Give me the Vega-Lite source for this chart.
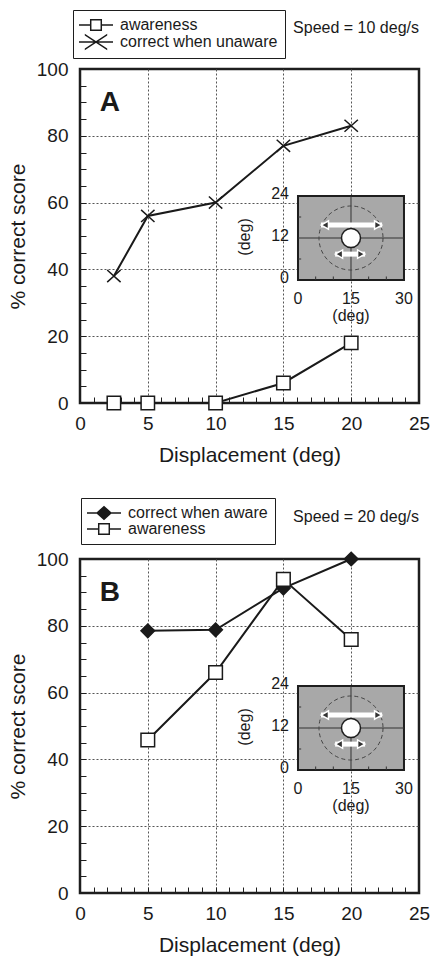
{
  "$schema": "https://vega.github.io/schema/vega-lite/v6.json",
  "background": "white",
  "padding": {"left": 6, "top": 8, "right": 0, "bottom": 0},
  "spacing": 29,
  "resolve": {"scale": {"shape": "independent", "fill": "independent"}, "legend": {"shape": "independent", "fill": "independent"}},
  "config": {
    "font": "Liberation Sans",
    "view": {"stroke": "#1e1e1e", "strokeWidth": 2.5},
    "axis": {
      "domain": false, "tickSize": -6, "tickColor": "#1e1e1e", "tickWidth": 1,
      "labelFontSize": 19, "labelColor": "#1a1a1a", "labelFlush": false, "labelOverlap": false,
      "titleFontSize": 21, "titleFontWeight": "normal", "titleColor": "#1a1a1a",
      "gridColor": "#555", "gridDash": [2, 2], "gridWidth": 1
    },
    "legend": {
      "orient": "none", "labelFontSize": 16, "labelColor": "#1a1a1a",
      "symbolSize": 196, "symbolStrokeWidth": 0, "symbolFillColor": "#1a1a1a", "symbolOpacity": 1,
      "symbolOffset": 8, "labelOffset": 16, "rowPadding": 0, "padding": 7,
      "strokeColor": "#1e1e1e", "fillColor": "white"
    }
  },
  "vconcat": [
    {
      "width": 339, "height": 334,
      "resolve": {"scale": {"x": "independent", "y": "independent"}},
      "layer": [
        {
          "data": {"name": "seriesA"},
          "resolve": {"scale": {"shape": "independent", "fill": "independent"}},
          "encoding": {
            "x": {"field": "d", "type": "quantitative", "title": "Displacement (deg)", "scale": {"domain": [0, 25], "nice": false, "zero": false},
              "axis": {"values": [0,1,2,3,4,5,6,7,8,9,10,11,12,13,14,15,16,17,18,19,20,21,22,23,24,25], "labelExpr": "datum.value % 5 === 0 ? datum.label : ''", "labelPadding": 17, "titlePadding": 11,
                "gridOpacity": {"condition": {"test": "datum.value % 5 === 0 && datum.value > 0 && datum.value < 25", "value": 1}, "value": 0}}},
            "y": {"field": "pct", "type": "quantitative", "title": "% correct score", "scale": {"domain": [0, 100], "nice": false},
              "axis": {"values": [0,5,10,15,20,25,30,35,40,45,50,55,60,65,70,75,80,85,90,95,100], "labelExpr": "datum.value % 20 === 0 ? datum.label : ''", "labelPadding": 18, "titlePadding": 8,
                "gridOpacity": {"condition": {"test": "datum.value % 20 === 0 && datum.value > 0 && datum.value < 100", "value": 1}, "value": 0}}}
          },
          "layer": [
            {"mark": {"type": "line", "color": "#1a1a1a", "strokeWidth": 2}, "encoding": {"detail": {"field": "series"}}},
            {"mark": {"type": "point", "filled": true, "color": "#1a1a1a", "opacity": 0, "size": 196},
              "encoding": {
                "shape": {"field": "series", "type": "nominal",
                  "scale": {"domain": ["awareness", "correct when unaware"], "range": [
                    "M-2.43,-0.1H-0.86V0.1H-2.43ZM0.86,-0.1H2.43V0.1H0.86ZM-0.86,-0.86H0.86V0.86H-0.86ZM-0.65,-0.65V0.65H0.65V-0.65Z",
                    "M-2.43,-0.1H2.43V0.1H-2.43ZM-1.6,-1.175L1.6,0.925L1.6,1.175L-1.6,-0.925ZM-1.6,0.925L1.6,-1.175L1.6,-0.925L-1.6,1.175Z"]},
                  "legend": {"title": null, "legendX": -7, "legendY": -59,
                    "encode": {"legend": {"strokeWidth": {"value": 2}}}}}
              }},
            {"mark": {"type": "point", "filled": true, "stroke": "#1a1a1a", "strokeWidth": 1.5, "size": 180, "opacity": 1},
              "encoding": {
                "shape": {"field": "series", "type": "nominal",
                  "scale": {"domain": ["awareness", "correct when unaware"], "range": ["square", "M-1,-0.9L1,0.9M-1,0.9L1,-0.9"]}, "legend": null},
                "fill": {"field": "series", "type": "nominal",
                  "scale": {"domain": ["awareness", "correct when unaware"], "range": ["white", "transparent"]}, "legend": null}
              }}
          ]
        },
        {
          "layer": [
            {"data": {"values": [{"label": "A"}]},
              "mark": {"type": "text", "fontSize": 28, "fontWeight": "bold", "align": "left", "baseline": "middle", "color": "#1a1a1a"},
              "encoding": {
                "x": {"datum": 1.45, "type": "quantitative", "scale": {"domain": [0, 25], "nice": false, "zero": false}, "axis": null},
                "y": {"datum": 89.8, "type": "quantitative", "scale": {"domain": [0, 100], "nice": false}, "axis": null},
                "text": {"field": "label"}}},
            {"data": {"values": [{"label": "Speed = 10 deg/s"}]},
              "mark": {"type": "text", "fontSize": 16, "align": "right", "baseline": "middle", "color": "#1a1a1a"},
              "encoding": {
                "x": {"datum": 25, "type": "quantitative", "scale": {"domain": [0, 25], "nice": false, "zero": false}, "axis": null},
                "y": {"datum": 112.3, "type": "quantitative", "scale": {"domain": [0, 100], "nice": false}, "axis": null},
                "text": {"field": "label"}}}
          ]
        },
        {
          "layer": [
            {"data": {"values": [{"u": 0, "v": 0, "u2": 30, "v2": 24}]},
              "mark": {"type": "rect", "fill": "#a8a8a8", "stroke": "#1e1e1e", "strokeWidth": 2},
              "encoding": {
                "x": {"field": "u", "type": "quantitative", "scale": {"domain": [-61.7, 34.25], "nice": false, "zero": false}, "axis": null},
                "y": {"field": "v", "type": "quantitative", "scale": {"domain": [-35.14, 60.29], "nice": false, "zero": false}, "axis": null},
                "x2": {"field": "u2"}, "y2": {"field": "v2"}}},
            {"data": {"values": [
              {"u": 15, "v": 0, "u2": 15, "v2": 24}, {"u": 0, "v": 12, "u2": 30, "v2": 12},
              {"u": 5, "v": 0, "u2": 5, "v2": 1}, {"u": 10, "v": 0, "u2": 10, "v2": 1},
              {"u": 20, "v": 0, "u2": 20, "v2": 1}, {"u": 25, "v": 0, "u2": 25, "v2": 1},
              {"u": 0, "v": 6, "u2": 0.9, "v2": 6}, {"u": 0, "v": 18, "u2": 0.9, "v2": 18}]},
              "mark": {"type": "rule", "color": "#333", "strokeWidth": 1},
              "encoding": {
                "x": {"field": "u", "type": "quantitative", "scale": {"domain": [-61.7, 34.25], "nice": false, "zero": false}, "axis": null},
                "y": {"field": "v", "type": "quantitative", "scale": {"domain": [-35.14, 60.29], "nice": false, "zero": false}, "axis": null},
                "x2": {"field": "u2"}, "y2": {"field": "v2"}}},
            {"data": {"values": [{"u": 15, "v": 12}]},
              "mark": {"type": "point", "shape": "circle", "size": 4100, "filled": false, "stroke": "#444", "strokeWidth": 1, "strokeDash": [4, 3], "opacity": 1},
              "encoding": {
                "x": {"field": "u", "type": "quantitative", "scale": {"domain": [-61.7, 34.25], "nice": false, "zero": false}, "axis": null},
                "y": {"field": "v", "type": "quantitative", "scale": {"domain": [-35.14, 60.29], "nice": false, "zero": false}, "axis": null}}},
            {"data": {"values": [{"u": 6.5, "u2": 23.8, "v": 15.7}, {"u": 10.5, "u2": 19, "v": 7.4}]},
              "mark": {"type": "rule", "color": "white", "strokeWidth": 5},
              "encoding": {
                "x": {"field": "u", "type": "quantitative", "scale": {"domain": [-61.7, 34.25], "nice": false, "zero": false}, "axis": null},
                "y": {"field": "v", "type": "quantitative", "scale": {"domain": [-35.14, 60.29], "nice": false, "zero": false}, "axis": null},
                "x2": {"field": "u2"}}},
            {"data": {"values": [{"u": 7.6, "v": 15.7}, {"u": 11.6, "v": 7.4}]},
              "mark": {"type": "point", "shape": "triangle-left", "size": 70, "filled": true, "fill": "#333", "stroke": "white", "strokeWidth": 1.5, "opacity": 1},
              "encoding": {
                "x": {"field": "u", "type": "quantitative", "scale": {"domain": [-61.7, 34.25], "nice": false, "zero": false}, "axis": null},
                "y": {"field": "v", "type": "quantitative", "scale": {"domain": [-35.14, 60.29], "nice": false, "zero": false}, "axis": null}}},
            {"data": {"values": [{"u": 22.7, "v": 15.7}, {"u": 17.9, "v": 7.4}]},
              "mark": {"type": "point", "shape": "triangle-right", "size": 70, "filled": true, "fill": "#333", "stroke": "white", "strokeWidth": 1.5, "opacity": 1},
              "encoding": {
                "x": {"field": "u", "type": "quantitative", "scale": {"domain": [-61.7, 34.25], "nice": false, "zero": false}, "axis": null},
                "y": {"field": "v", "type": "quantitative", "scale": {"domain": [-35.14, 60.29], "nice": false, "zero": false}, "axis": null}}},
            {"data": {"values": [{"u": 15, "v": 12}]},
              "mark": {"type": "point", "shape": "circle", "size": 361, "filled": true, "fill": "white", "stroke": "#1e1e1e", "strokeWidth": 1.5, "opacity": 1},
              "encoding": {
                "x": {"field": "u", "type": "quantitative", "scale": {"domain": [-61.7, 34.25], "nice": false, "zero": false}, "axis": null},
                "y": {"field": "v", "type": "quantitative", "scale": {"domain": [-35.14, 60.29], "nice": false, "zero": false}, "axis": null}}},
            {"data": {"values": [{"v": 0, "label": "0"}, {"v": 12, "label": "12"}, {"v": 24, "label": "24"}]},
              "mark": {"type": "text", "align": "right", "baseline": "middle", "dx": -9, "dy": -2, "fontSize": 16, "color": "#1a1a1a"},
              "encoding": {
                "x": {"datum": 0, "type": "quantitative", "scale": {"domain": [-61.7, 34.25], "nice": false, "zero": false}, "axis": null},
                "y": {"field": "v", "type": "quantitative", "scale": {"domain": [-35.14, 60.29], "nice": false, "zero": false}, "axis": null},
                "text": {"field": "label"}}},
            {"data": {"values": [{"u": 0, "label": "0"}, {"u": 15, "label": "15"}, {"u": 30, "label": "30"}]},
              "mark": {"type": "text", "align": "center", "baseline": "top", "dy": 11, "fontSize": 16, "color": "#1a1a1a"},
              "encoding": {
                "x": {"field": "u", "type": "quantitative", "scale": {"domain": [-61.7, 34.25], "nice": false, "zero": false}, "axis": null},
                "y": {"datum": 0, "type": "quantitative", "scale": {"domain": [-35.14, 60.29], "nice": false, "zero": false}, "axis": null},
                "text": {"field": "label"}}},
            {"data": {"values": [{"label": "(deg)"}]},
              "mark": {"type": "text", "align": "center", "baseline": "middle", "dy": 36, "fontSize": 16, "color": "#1a1a1a"},
              "encoding": {
                "x": {"datum": 15, "type": "quantitative", "scale": {"domain": [-61.7, 34.25], "nice": false, "zero": false}, "axis": null},
                "y": {"datum": 0, "type": "quantitative", "scale": {"domain": [-35.14, 60.29], "nice": false, "zero": false}, "axis": null},
                "text": {"field": "label"}}},
            {"data": {"values": [{"label": "(deg)"}]},
              "mark": {"type": "text", "align": "center", "baseline": "middle", "angle": 270, "fontSize": 16, "color": "#1a1a1a"},
              "encoding": {
                "x": {"datum": -14.9, "type": "quantitative", "scale": {"domain": [-61.7, 34.25], "nice": false, "zero": false}, "axis": null},
                "y": {"datum": 12.3, "type": "quantitative", "scale": {"domain": [-35.14, 60.29], "nice": false, "zero": false}, "axis": null},
                "text": {"field": "label"}}}
          ]
        }
      ]
    },
    {
      "width": 339, "height": 334,
      "resolve": {"scale": {"x": "independent", "y": "independent"}},
      "layer": [
        {
          "data": {"name": "seriesB"},
          "resolve": {"scale": {"shape": "independent", "fill": "independent"}},
          "encoding": {
            "x": {"field": "d", "type": "quantitative", "title": "Displacement (deg)", "scale": {"domain": [0, 25], "nice": false, "zero": false},
              "axis": {"values": [0,1,2,3,4,5,6,7,8,9,10,11,12,13,14,15,16,17,18,19,20,21,22,23,24,25], "labelExpr": "datum.value % 5 === 0 ? datum.label : ''", "labelPadding": 17, "titlePadding": 11,
                "gridOpacity": {"condition": {"test": "datum.value % 5 === 0 && datum.value > 0 && datum.value < 25", "value": 1}, "value": 0}}},
            "y": {"field": "pct", "type": "quantitative", "title": "% correct score", "scale": {"domain": [0, 100], "nice": false},
              "axis": {"values": [0,5,10,15,20,25,30,35,40,45,50,55,60,65,70,75,80,85,90,95,100], "labelExpr": "datum.value % 20 === 0 ? datum.label : ''", "labelPadding": 18, "titlePadding": 8,
                "gridOpacity": {"condition": {"test": "datum.value % 20 === 0 && datum.value > 0 && datum.value < 100", "value": 1}, "value": 0}}}
          },
          "layer": [
            {"mark": {"type": "line", "color": "#1a1a1a", "strokeWidth": 2}, "encoding": {"detail": {"field": "series"}}},
            {"mark": {"type": "point", "filled": true, "color": "#1a1a1a", "opacity": 0, "size": 196},
              "encoding": {
                "shape": {"field": "series", "type": "nominal",
                  "scale": {"domain": ["correct when aware", "awareness"], "range": [
                    "M-2.43,-0.1H2.43V0.1H-2.43ZM0,-1.05L1.15,0L0,1.05L-1.15,0Z",
                    "M-2.43,-0.1H-0.86V0.1H-2.43ZM0.86,-0.1H2.43V0.1H0.86ZM-0.86,-0.86H0.86V0.86H-0.86ZM-0.65,-0.65V0.65H0.65V-0.65Z"]},
                  "legend": {"title": null, "legendX": 1, "legendY": -61,
                    "encode": {"legend": {"strokeWidth": {"value": 2}}}}}
              }},
            {"mark": {"type": "point", "filled": true, "stroke": "#1a1a1a", "strokeWidth": 1.5, "size": 185, "opacity": 1},
              "encoding": {
                "shape": {"field": "series", "type": "nominal",
                  "scale": {"domain": ["correct when aware", "awareness"], "range": ["diamond", "square"]}, "legend": null},
                "fill": {"field": "series", "type": "nominal",
                  "scale": {"domain": ["correct when aware", "awareness"], "range": ["#1a1a1a", "white"]}, "legend": null}
              }}
          ]
        },
        {
          "layer": [
            {"data": {"values": [{"label": "B"}]},
              "mark": {"type": "text", "fontSize": 28, "fontWeight": "bold", "align": "left", "baseline": "middle", "color": "#1a1a1a"},
              "encoding": {
                "x": {"datum": 1.45, "type": "quantitative", "scale": {"domain": [0, 25], "nice": false, "zero": false}, "axis": null},
                "y": {"datum": 89.8, "type": "quantitative", "scale": {"domain": [0, 100], "nice": false}, "axis": null},
                "text": {"field": "label"}}},
            {"data": {"values": [{"label": "Speed = 20 deg/s"}]},
              "mark": {"type": "text", "fontSize": 16, "align": "right", "baseline": "middle", "color": "#1a1a1a"},
              "encoding": {
                "x": {"datum": 25, "type": "quantitative", "scale": {"domain": [0, 25], "nice": false, "zero": false}, "axis": null},
                "y": {"datum": 112.5, "type": "quantitative", "scale": {"domain": [0, 100], "nice": false}, "axis": null},
                "text": {"field": "label"}}}
          ]
        },
        {
          "layer": [
            {"data": {"values": [{"u": 0, "v": 0, "u2": 30, "v2": 24}]},
              "mark": {"type": "rect", "fill": "#a8a8a8", "stroke": "#1e1e1e", "strokeWidth": 2},
              "encoding": {
                "x": {"field": "u", "type": "quantitative", "scale": {"domain": [-61.7, 34.25], "nice": false, "zero": false}, "axis": null},
                "y": {"field": "v", "type": "quantitative", "scale": {"domain": [-35.14, 60.29], "nice": false, "zero": false}, "axis": null},
                "x2": {"field": "u2"}, "y2": {"field": "v2"}}},
            {"data": {"values": [
              {"u": 15, "v": 0, "u2": 15, "v2": 24}, {"u": 0, "v": 12, "u2": 30, "v2": 12},
              {"u": 5, "v": 0, "u2": 5, "v2": 1}, {"u": 10, "v": 0, "u2": 10, "v2": 1},
              {"u": 20, "v": 0, "u2": 20, "v2": 1}, {"u": 25, "v": 0, "u2": 25, "v2": 1},
              {"u": 0, "v": 6, "u2": 0.9, "v2": 6}, {"u": 0, "v": 18, "u2": 0.9, "v2": 18}]},
              "mark": {"type": "rule", "color": "#333", "strokeWidth": 1},
              "encoding": {
                "x": {"field": "u", "type": "quantitative", "scale": {"domain": [-61.7, 34.25], "nice": false, "zero": false}, "axis": null},
                "y": {"field": "v", "type": "quantitative", "scale": {"domain": [-35.14, 60.29], "nice": false, "zero": false}, "axis": null},
                "x2": {"field": "u2"}, "y2": {"field": "v2"}}},
            {"data": {"values": [{"u": 15, "v": 12}]},
              "mark": {"type": "point", "shape": "circle", "size": 4100, "filled": false, "stroke": "#444", "strokeWidth": 1, "strokeDash": [4, 3], "opacity": 1},
              "encoding": {
                "x": {"field": "u", "type": "quantitative", "scale": {"domain": [-61.7, 34.25], "nice": false, "zero": false}, "axis": null},
                "y": {"field": "v", "type": "quantitative", "scale": {"domain": [-35.14, 60.29], "nice": false, "zero": false}, "axis": null}}},
            {"data": {"values": [{"u": 6.5, "u2": 23.8, "v": 15.7}, {"u": 10.5, "u2": 19, "v": 7.4}]},
              "mark": {"type": "rule", "color": "white", "strokeWidth": 5},
              "encoding": {
                "x": {"field": "u", "type": "quantitative", "scale": {"domain": [-61.7, 34.25], "nice": false, "zero": false}, "axis": null},
                "y": {"field": "v", "type": "quantitative", "scale": {"domain": [-35.14, 60.29], "nice": false, "zero": false}, "axis": null},
                "x2": {"field": "u2"}}},
            {"data": {"values": [{"u": 7.6, "v": 15.7}, {"u": 11.6, "v": 7.4}]},
              "mark": {"type": "point", "shape": "triangle-left", "size": 70, "filled": true, "fill": "#333", "stroke": "white", "strokeWidth": 1.5, "opacity": 1},
              "encoding": {
                "x": {"field": "u", "type": "quantitative", "scale": {"domain": [-61.7, 34.25], "nice": false, "zero": false}, "axis": null},
                "y": {"field": "v", "type": "quantitative", "scale": {"domain": [-35.14, 60.29], "nice": false, "zero": false}, "axis": null}}},
            {"data": {"values": [{"u": 22.7, "v": 15.7}, {"u": 17.9, "v": 7.4}]},
              "mark": {"type": "point", "shape": "triangle-right", "size": 70, "filled": true, "fill": "#333", "stroke": "white", "strokeWidth": 1.5, "opacity": 1},
              "encoding": {
                "x": {"field": "u", "type": "quantitative", "scale": {"domain": [-61.7, 34.25], "nice": false, "zero": false}, "axis": null},
                "y": {"field": "v", "type": "quantitative", "scale": {"domain": [-35.14, 60.29], "nice": false, "zero": false}, "axis": null}}},
            {"data": {"values": [{"u": 15, "v": 12}]},
              "mark": {"type": "point", "shape": "circle", "size": 361, "filled": true, "fill": "white", "stroke": "#1e1e1e", "strokeWidth": 1.5, "opacity": 1},
              "encoding": {
                "x": {"field": "u", "type": "quantitative", "scale": {"domain": [-61.7, 34.25], "nice": false, "zero": false}, "axis": null},
                "y": {"field": "v", "type": "quantitative", "scale": {"domain": [-35.14, 60.29], "nice": false, "zero": false}, "axis": null}}},
            {"data": {"values": [{"v": 0, "label": "0"}, {"v": 12, "label": "12"}, {"v": 24, "label": "24"}]},
              "mark": {"type": "text", "align": "right", "baseline": "middle", "dx": -9, "dy": -2, "fontSize": 16, "color": "#1a1a1a"},
              "encoding": {
                "x": {"datum": 0, "type": "quantitative", "scale": {"domain": [-61.7, 34.25], "nice": false, "zero": false}, "axis": null},
                "y": {"field": "v", "type": "quantitative", "scale": {"domain": [-35.14, 60.29], "nice": false, "zero": false}, "axis": null},
                "text": {"field": "label"}}},
            {"data": {"values": [{"u": 0, "label": "0"}, {"u": 15, "label": "15"}, {"u": 30, "label": "30"}]},
              "mark": {"type": "text", "align": "center", "baseline": "top", "dy": 11, "fontSize": 16, "color": "#1a1a1a"},
              "encoding": {
                "x": {"field": "u", "type": "quantitative", "scale": {"domain": [-61.7, 34.25], "nice": false, "zero": false}, "axis": null},
                "y": {"datum": 0, "type": "quantitative", "scale": {"domain": [-35.14, 60.29], "nice": false, "zero": false}, "axis": null},
                "text": {"field": "label"}}},
            {"data": {"values": [{"label": "(deg)"}]},
              "mark": {"type": "text", "align": "center", "baseline": "middle", "dy": 36, "fontSize": 16, "color": "#1a1a1a"},
              "encoding": {
                "x": {"datum": 15, "type": "quantitative", "scale": {"domain": [-61.7, 34.25], "nice": false, "zero": false}, "axis": null},
                "y": {"datum": 0, "type": "quantitative", "scale": {"domain": [-35.14, 60.29], "nice": false, "zero": false}, "axis": null},
                "text": {"field": "label"}}},
            {"data": {"values": [{"label": "(deg)"}]},
              "mark": {"type": "text", "align": "center", "baseline": "middle", "angle": 270, "fontSize": 16, "color": "#1a1a1a"},
              "encoding": {
                "x": {"datum": -14.9, "type": "quantitative", "scale": {"domain": [-61.7, 34.25], "nice": false, "zero": false}, "axis": null},
                "y": {"datum": 12.3, "type": "quantitative", "scale": {"domain": [-35.14, 60.29], "nice": false, "zero": false}, "axis": null},
                "text": {"field": "label"}}}
          ]
        }
      ]
    }
  ],
  "datasets": {
    "seriesA": [
      {"d": 2.5, "pct": 0, "series": "awareness"},
      {"d": 5, "pct": 0, "series": "awareness"},
      {"d": 10, "pct": 0, "series": "awareness"},
      {"d": 15, "pct": 6, "series": "awareness"},
      {"d": 20, "pct": 18, "series": "awareness"},
      {"d": 2.5, "pct": 38, "series": "correct when unaware"},
      {"d": 5, "pct": 56, "series": "correct when unaware"},
      {"d": 10, "pct": 60, "series": "correct when unaware"},
      {"d": 15, "pct": 77, "series": "correct when unaware"},
      {"d": 20, "pct": 83, "series": "correct when unaware"}
    ],
    "seriesB": [
      {"d": 5, "pct": 78.5, "series": "correct when aware"},
      {"d": 10, "pct": 78.8, "series": "correct when aware"},
      {"d": 15, "pct": 91.3, "series": "correct when aware"},
      {"d": 20, "pct": 100, "series": "correct when aware"},
      {"d": 5, "pct": 45.8, "series": "awareness"},
      {"d": 10, "pct": 66, "series": "awareness"},
      {"d": 15, "pct": 93.9, "series": "awareness"},
      {"d": 20, "pct": 75.9, "series": "awareness"}
    ]
  }
}
